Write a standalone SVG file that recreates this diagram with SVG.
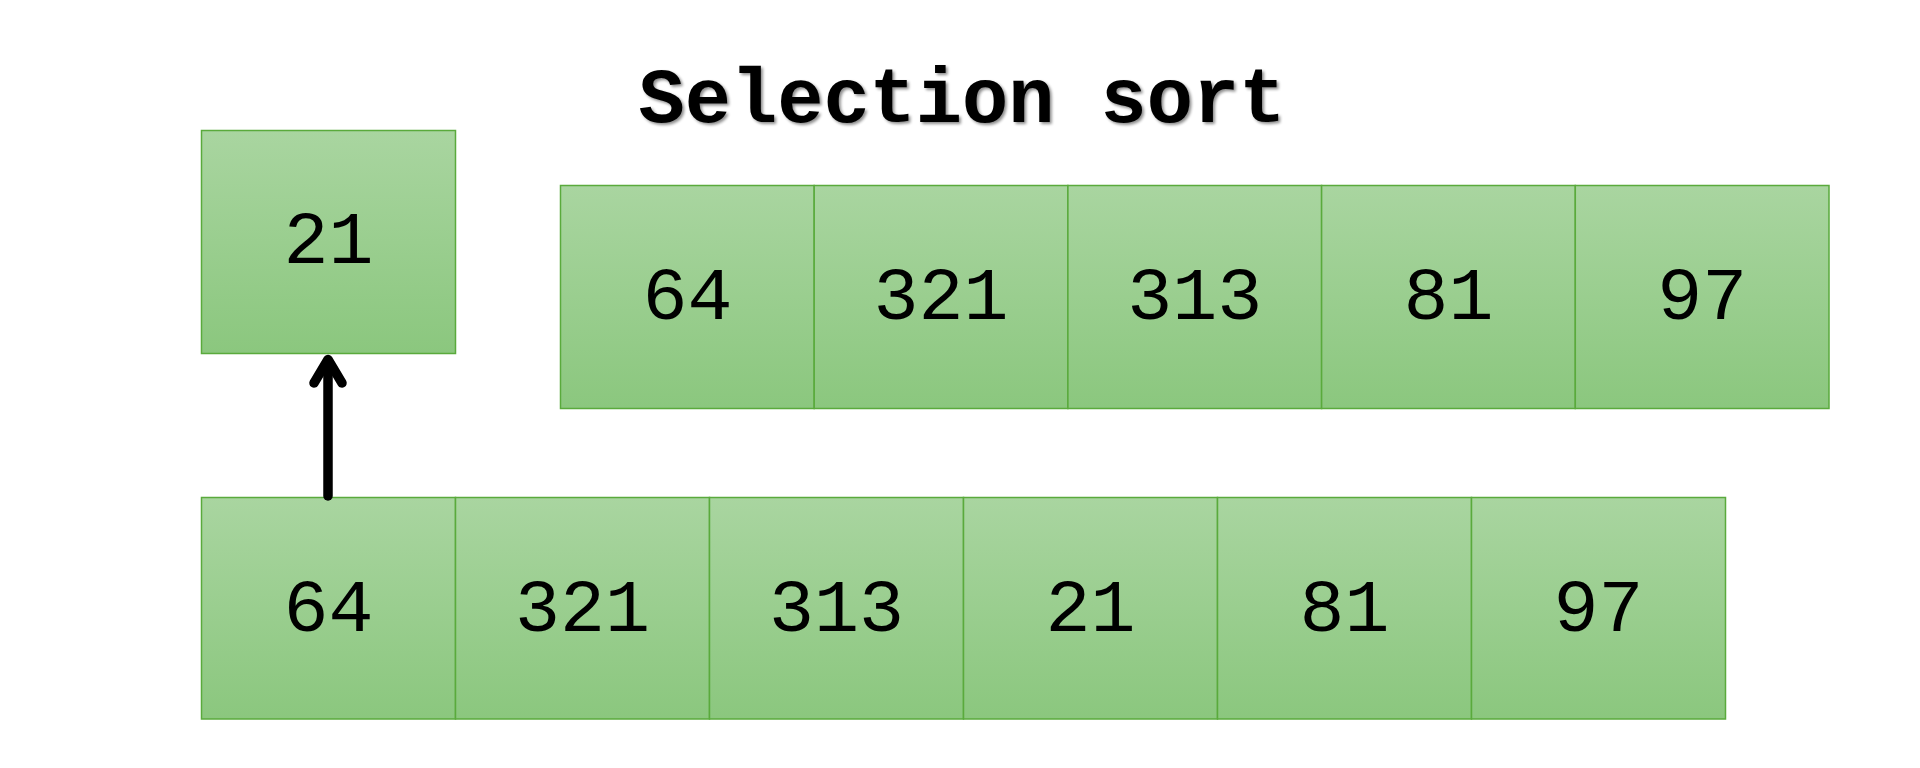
<svg xmlns="http://www.w3.org/2000/svg" width="1920" height="768" viewBox="0 0 1920 768">
<defs>
<linearGradient id="g" x1="0" y1="0" x2="0" y2="1">
<stop offset="0" stop-color="#a9d5a0"/>
<stop offset="1" stop-color="#8bc77e"/>
</linearGradient>
<filter id="sh" x="-10%" y="-30%" width="120%" height="160%">
<feGaussianBlur in="SourceAlpha" stdDeviation="1.5"/>
<feOffset dx="2" dy="2" result="b"/>
<feComponentTransfer><feFuncA type="linear" slope="0.45"/></feComponentTransfer>
<feMerge><feMergeNode/><feMergeNode in="SourceGraphic"/></feMerge>
</filter>
</defs>
<style>
.c{fill:url(#g);stroke:#5aaa3c;stroke-width:1.5}
.t{font-family:"Liberation Mono","Courier New",monospace;font-size:75px;fill:#000;text-anchor:middle}
.title{font-family:"Liberation Mono","Courier New",monospace;font-size:77px;font-weight:bold;fill:#000;text-anchor:middle}
.a{fill:none;stroke:#000;stroke-width:9.5;stroke-linecap:round;stroke-linejoin:round}
</style>
<rect width="1920" height="768" fill="#fff"/>
<text class="title" x="962" y="122" filter="url(#sh)">Selection sort</text>

<g id="selected"><rect class="c" x="201.5" y="130.5" width="254" height="223"/><text class="t" x="328.5" y="263">21</text></g>

<g id="top-row">
<g id="top-0"><rect class="c" x="560.5" y="185.5" width="253.7" height="223"/><text class="t" x="687.4" y="319">64</text></g>
<g id="top-1"><rect class="c" x="814.2" y="185.5" width="253.7" height="223"/><text class="t" x="941" y="319">321</text></g>
<g id="top-2"><rect class="c" x="1067.9" y="185.5" width="253.7" height="223"/><text class="t" x="1194.8" y="319">313</text></g>
<g id="top-3"><rect class="c" x="1321.6" y="185.5" width="253.7" height="223"/><text class="t" x="1448.4" y="319">81</text></g>
<g id="top-4"><rect class="c" x="1575.3" y="185.5" width="253.7" height="223"/><text class="t" x="1702.2" y="319">97</text></g>
</g>

<g id="bottom-row">
<g id="bot-0"><rect class="c" x="201.5" y="497.5" width="254" height="221.5"/><text class="t" x="328.5" y="631">64</text></g>
<g id="bot-1"><rect class="c" x="455.5" y="497.5" width="254" height="221.5"/><text class="t" x="582.5" y="631">321</text></g>
<g id="bot-2"><rect class="c" x="709.5" y="497.5" width="254" height="221.5"/><text class="t" x="836.5" y="631">313</text></g>
<g id="bot-3"><rect class="c" x="963.5" y="497.5" width="254" height="221.5"/><text class="t" x="1090.5" y="631">21</text></g>
<g id="bot-4"><rect class="c" x="1217.5" y="497.5" width="254" height="221.5"/><text class="t" x="1344.5" y="631">81</text></g>
<g id="bot-5"><rect class="c" x="1471.5" y="497.5" width="254" height="221.5"/><text class="t" x="1598.5" y="631">97</text></g>
</g>

<g id="connectors">
<line class="a" x1="328" y1="496" x2="328" y2="362" stroke-linecap="butt"/>
<polyline class="a" points="314,383 328,359.5 342,383"/>
</g>
</svg>
